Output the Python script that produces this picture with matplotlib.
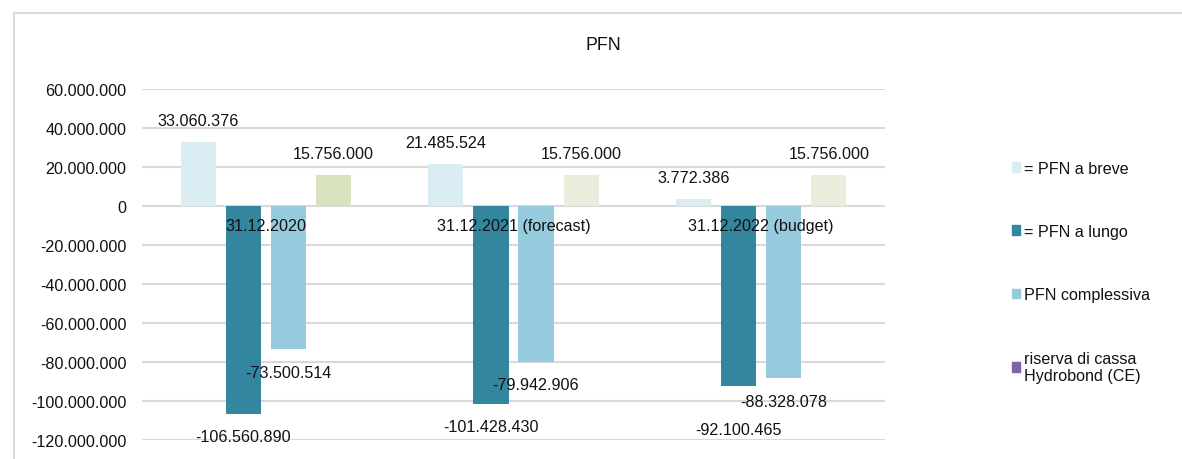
import matplotlib.pyplot as plt
import numpy as np
from matplotlib.patches import Patch
from matplotlib.lines import Line2D

plt.rcParams['font.family'] = ['Liberation Sans', 'DejaVu Sans']

# PFN values by period
categories = ['31.12.2020', '31.12.2021 (forecast)', '31.12.2022 (budget)']
series_names = ['= PFN a breve', '= PFN a lungo', 'PFN complessiva',
                'riserva di cassa\nHydrobond (CE)']
pfn_breve = [33060376, 21485524, 3772386]
pfn_lungo = [-106560890, -101428430, -92100465]
pfn_complessiva = [-73500514, -79942906, -88328078]
riserva_cassa = [15756000, 15756000, 15756000]

series = [pfn_breve, pfn_lungo, pfn_complessiva, riserva_cassa]
colors = ['#daedf3', '#33869e', '#95cbdc', '#8064a2']
# the reserve bars are filled with a pale green, different per period
riserva_fill = ['#d6e3bd', '#e9eedc', '#e9eedc']

FS = 11.6


def fmt(v):
    s = f'{abs(v):,}'.replace(',', '.')
    return ('-' if v < 0 else '') + s


fig = plt.figure(figsize=(11.82, 4.60), dpi=100)
ax = fig.add_axes([142 / 1182, 1 - 441 / 460, 743 / 1182, 351 / 460])

x = np.arange(len(categories))
width = 0.142
step = 0.182
offsets = (np.arange(4) - 1.5) * step

for i, vals in enumerate(series):
    fill = riserva_fill if i == 3 else colors[i]
    bars = ax.bar(x + offsets[i], vals, width, color=fill, zorder=2)
    for j, (b, v) in enumerate(zip(bars, vals)):
        cx = b.get_x() + b.get_width() / 2
        if v >= 0:
            ax.annotate(fmt(v), (cx, v), xytext=(0, 10), textcoords='offset points',
                        ha='center', va='bottom', fontsize=FS, color='#111111', zorder=4)
        else:
            dy = -11
            # push the last long-term label down so it clears its neighbour
            if i == 1 and j == 2:
                dy = -26
            ax.annotate(fmt(v), (cx, v), xytext=(0, dy), textcoords='offset points',
                        ha='center', va='top', fontsize=FS, color='#111111', zorder=4)

# period labels sit just under the zero line, over the bars
for xi, cat in zip(x, categories):
    ax.annotate(cat, (xi, 0), xytext=(0, -9), textcoords='offset points',
                ha='center', va='top', fontsize=FS, color='#111111', zorder=4)

ax.set_xlim(-0.5, 2.5)
ax.set_ylim(-120000000, 60000000)
ax.set_yticks(np.arange(-120000000, 60000001, 20000000))
ax.set_yticklabels([fmt(int(t)) for t in ax.get_yticks()])
ax.set_xticks([])
ax.tick_params(axis='y', length=0, pad=11, labelsize=FS, labelcolor='#111111')
ax.grid(axis='y', color='#d9d9d9', linewidth=1.5, zorder=1)
ax.set_axisbelow(True)
for sp in ax.spines.values():
    sp.set_visible(False)

fig.text(603 / 1182, 1 - 46 / 460, 'PFN', ha='center', va='center', fontsize=12.8,
         color='#111111')

handles = [Patch(color=c) for c in colors]
leg = fig.legend(handles, series_names, loc='upper left',
                 bbox_to_anchor=(997 / 1182, 1 - 147 / 460), frameon=False,
                 fontsize=FS, handlelength=0.55, handleheight=0.55,
                 handletextpad=0.25, labelspacing=3.0)
for t in leg.get_texts():
    t.set_color('#111111')

# light frame along the top and left
fig.add_artist(Line2D([14 / 1182, 1], [1 - 14 / 460, 1 - 14 / 460],
                      color='#d9d9d9', linewidth=1.5))
fig.add_artist(Line2D([14 / 1182, 14 / 1182], [0, 1 - 14 / 460],
                      color='#d9d9d9', linewidth=1.5))

fig.savefig('out.png', dpi=100)
